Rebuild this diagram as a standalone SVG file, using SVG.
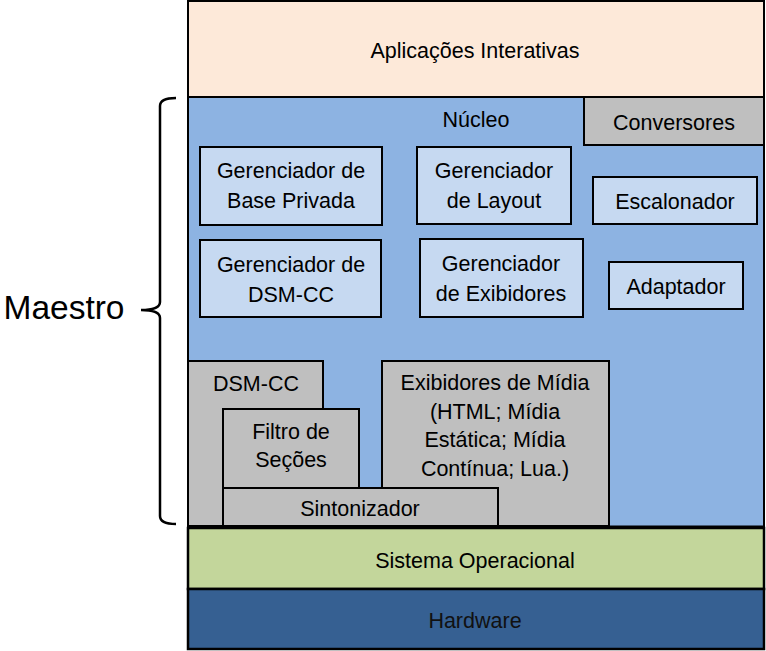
<svg xmlns="http://www.w3.org/2000/svg" width="766" height="651" viewBox="0 0 766 651">
<style>
  text { font-family: "Liberation Sans", Arial, sans-serif; font-size: 21.5px; fill: #000; text-anchor: middle; }
  .b { stroke: #000; stroke-width: 2; }
  .light { fill: #C6D9F1; }
  .gray { fill: #BFBFBF; }
</style>
<rect width="766" height="651" fill="#fff"/>
<g id="aplicacoes">
  <rect class="b" x="188" y="1" width="576" height="96" fill="#FDE9D9"/>
  <text x="475" y="58">Aplicações Interativas</text>
</g>
<g id="nucleo">
  <rect class="b" x="188" y="97" width="576" height="430" fill="#8DB3E2"/>
  <text x="476" y="127">Núcleo</text>
</g>
<g id="conversores">
  <rect class="b gray" x="584" y="97" width="180" height="48"/>
  <text x="674" y="130">Conversores</text>
</g>
<g id="ger-base">
  <rect class="b light" x="200" y="147" width="182" height="78"/>
  <text x="291" y="178">Gerenciador de</text>
  <text x="291" y="208">Base Privada</text>
</g>
<g id="ger-layout">
  <rect class="b light" x="417" y="147" width="154" height="77"/>
  <text x="494" y="178">Gerenciador</text>
  <text x="494" y="208">de Layout</text>
</g>
<g id="escalonador">
  <rect class="b light" x="593" y="177" width="164" height="47"/>
  <text x="675" y="209">Escalonador</text>
</g>
<g id="ger-dsmcc">
  <rect class="b light" x="200" y="240" width="181" height="77"/>
  <text x="291" y="272">Gerenciador de</text>
  <text x="291" y="302">DSM-CC</text>
</g>
<g id="ger-exibidores">
  <rect class="b light" x="420" y="239" width="163" height="78"/>
  <text x="501" y="271">Gerenciador</text>
  <text x="501" y="301">de Exibidores</text>
</g>
<g id="adaptador">
  <rect class="b light" x="609" y="262" width="134" height="47"/>
  <text x="676" y="294">Adaptador</text>
</g>
<g id="dsmcc">
  <rect class="b gray" x="188" y="361" width="135" height="165"/>
  <text x="256" y="391">DSM-CC</text>
</g>
<g id="exibidores-midia">
  <rect class="b gray" x="382" y="361" width="227" height="165"/>
  <text x="495" y="390">Exibidores de Mídia</text>
  <text x="495" y="419">(HTML; Mídia</text>
  <text x="495" y="447">Estática; Mídia</text>
  <text x="495" y="476">Contínua; Lua.)</text>
</g>
<g id="filtro">
  <rect class="b gray" x="223" y="409" width="136" height="79"/>
  <text x="291" y="439">Filtro de</text>
  <text x="291" y="467">Seções</text>
</g>
<g id="sintonizador">
  <rect class="b gray" x="223" y="488" width="275" height="38"/>
  <text x="360" y="516">Sintonizador</text>
</g>
<g id="so">
  <rect x="188" y="528" width="576" height="61" fill="#C3D69B" stroke="#000" stroke-width="2.5"/>
  <text x="475" y="568">Sistema Operacional</text>
</g>
<g id="hardware">
  <rect x="188" y="589" width="576" height="60" fill="#366092" stroke="#000" stroke-width="2.5"/>
  <text x="475" y="628" style="fill:#111">Hardware</text>
</g>
<line x1="188" y1="527" x2="764" y2="527" stroke="#000" stroke-width="3"/>
<g id="connectors">
  <path d="M176,98 Q160,98 160,106 L160,302 Q160,310 141,310 Q160,310 160,318 L160,516 Q160,524 176,524" fill="none" stroke="#000" stroke-width="2.5"/>
</g>
<g id="maestro">
  <text x="64" y="319" style="font-size:33.5px">Maestro</text>
</g>
</svg>
